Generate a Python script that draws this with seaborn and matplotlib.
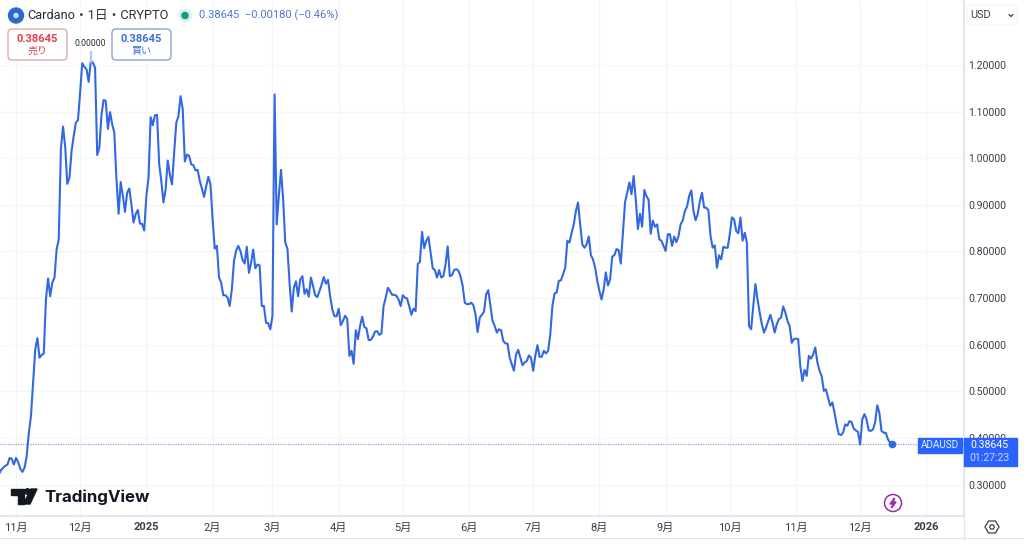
import pandas as pd
import matplotlib
matplotlib.use('Agg')
import matplotlib.pyplot as plt
from matplotlib.patches import Circle, FancyBboxPatch, Polygon, Rectangle
import seaborn as sns

# ADAUSD daily close
oct_24 = [.322, .331, .336, .340, .343, .357, .355, .343]
nov_24 = [.357, .348, .334, .327, .336, .361, .411, .447, .518, .590, .614, .572, .578, .581, .697,
          .742, .704, .733, .744, .804, .826, 1.019, 1.068, 1.026, .945, .958, 1.015, 1.048, 1.076, 1.082]
dec_24 = [1.141, 1.204, 1.196, 1.191, 1.164, 1.209, 1.205, 1.194, 1.007, 1.023, 1.094, 1.125, 1.123, 1.063, 1.099,
          1.073, 1.055, .955, .881, .949, .919, .885, .926, .935, .901, .862, .880, .889, .860, .859, .845]
jan_25 = [.919, .958, 1.088, 1.071, 1.092, 1.093, .987, .951, .905, .933, .995, .965, .944, 1.012, 1.076,
          1.090, 1.133, 1.106, .993, 1.008, 1.005, .987, .985, .974, .975, .951, .935, .917, .940, .960, .944]
feb_25 = [.869, .806, .812, .744, .733, .706, .706, .701, .683, .719, .779, .802, .812, .801,
          .782, .774, .810, .754, .776, .804, .764, .772, .770, .683, .683, .647, .646, .633]
mar_25 = [.661, 1.137, .858, .920, .975, .912, .819, .806, .733, .671, .722, .736, .704, .740, .747,
          .709, .719, .703, .744, .726, .706, .702, .715, .729, .745, .731, .739, .704, .676, .661, .661]
apr_25 = [.677, .642, .651, .662, .655, .576, .587, .559, .631, .612, .640, .660, .638, .635, .610,
          .610, .617, .628, .629, .621, .624, .683, .701, .722, .715, .707, .707, .705, .697, .683]
may_25 = [.706, .701, .699, .683, .664, .677, .672, .773, .778, .842, .807, .823, .831, .798, .764,
          .760, .744, .760, .744, .747, .773, .811, .747, .749, .760, .762, .759, .747, .726, .690, .687]
jun_25 = [.687, .690, .685, .665, .627, .658, .664, .671, .708, .717, .683, .651, .640, .626, .633,
          .631, .608, .603, .602, .572, .558, .544, .579, .589, .572, .556, .562, .565, .577, .572]
jul_25 = [.544, .576, .599, .574, .574, .587, .581, .587, .622, .683, .710, .712, .737, .738, .751,
          .765, .823, .819, .840, .858, .887, .905, .858, .815, .808, .815, .832, .792, .783, .765, .737]
aug_25 = [.715, .697, .719, .755, .727, .740, .789, .792, .805, .803, .774, .840, .906, .926, .948,
          .923, .962, .912, .848, .881, .853, .932, .919, .911, .838, .866, .853, .858, .826, .823, .812]
sep_25 = [.801, .837, .837, .812, .832, .820, .833, .858, .867, .887, .896, .919, .931, .887, .867,
          .880, .908, .926, .894, .894, .888, .833, .808, .813, .765, .792, .783, .810, .808, .808]
oct_25 = [.837, .873, .869, .844, .839, .873, .823, .840, .819, .640, .633, .683, .730, .697, .669,
          .644, .626, .637, .651, .664, .647, .626, .644, .655, .658, .682, .669, .651, .640, .604, .612]
nov_25 = [.613, .612, .554, .522, .546, .533, .576, .570, .579, .594, .562, .544, .533, .501, .504,
          .486, .469, .476, .454, .429, .408, .406, .411, .429, .426, .436, .434, .420, .416, .413]
dec_25 = [.386, .440, .451, .440, .416, .415, .418, .433, .470, .454, .415, .411, .411, .397, .390, .38645]

months = [oct_24, nov_24, dec_24, jan_25, feb_25, mar_25, apr_25, may_25, jun_25,
          jul_25, aug_25, sep_25, oct_25, nov_25, dec_25]
prices = [p for m in months for p in m]
last_price = prices[-1]

tick_dates = pd.date_range('2024-11-01', '2026-01-01', freq='MS')
tick_labels = ['11月', '12月', '2025', '2月', '3月', '4月', '5月', '6月', '7月', '8月', '9月', '10月', '11月', '12月', '2026']
price_ticks = [0.3, 0.4, 0.5, 0.6, 0.7, 0.8, 0.9, 1.0, 1.1, 1.2]

df = pd.DataFrame({'date': pd.date_range('2024-10-24', periods=len(prices), freq='D'), 'price': prices})

BLUE = '#3268e0'
TEXT = '#3a3e4a'
GRID = '#f4f5f7'
LINE = '#e0e3eb'

sns.set_theme(style='white')
plt.rcParams['font.family'] = ['Roboto', 'Noto Sans CJK JP', 'DejaVu Sans']

fig = plt.figure(figsize=(10.24, 5.45), dpi=100)
ax = fig.add_axes([0, 29.5 / 545, 964 / 1024, 515.5 / 545])

sns.lineplot(data=df, x='date', y='price', color=BLUE, linewidth=1.5, ax=ax, zorder=4)
ax.axhline(last_price, color='#8fa8d8', linewidth=0.9, linestyle=(0, (1, 1)), zorder=3)
ax.plot(df['date'].iloc[-1], last_price, 'o', color=BLUE, markersize=4.5, zorder=5)

ax.set_xlim(pd.Timestamp('2024-11-01') - pd.Timedelta(days=7.49), pd.Timestamp('2024-11-01') + pd.Timedelta(days=443.6))
ax.set_ylim(0.2335, 1.3395)
ax.set_xticks(tick_dates)
ax.set_xticklabels(tick_labels)
ax.set_yticks(price_ticks)
ax.set_yticklabels([f'{t:.5f}' for t in price_ticks])
ax.yaxis.tick_right()
ax.tick_params(axis='y', length=0, pad=3, labelsize=7.6, labelcolor=TEXT)
ax.tick_params(axis='x', length=0, pad=5, labelsize=8, labelcolor=TEXT)
for lab in ax.get_xticklabels():
    if lab.get_text() in ('2025', '2026'):
        lab.set_fontweight('bold')
ax.grid(True, color=GRID, linewidth=0.9)
ax.set_axisbelow(True)
ax.set_xlabel('')
ax.set_ylabel('')
for side in ax.spines:
    ax.spines[side].set_visible(False)
ax.spines['right'].set_visible(True)
ax.spines['bottom'].set_visible(True)
ax.spines['right'].set_color(LINE)
ax.spines['bottom'].set_color(LINE)

# overlay in pixel coordinates for the TradingView chrome
ui = fig.add_axes([0, 0, 1, 1], zorder=10)
ui.set_xlim(0, 1024)
ui.set_ylim(545, 0)
ui.axis('off')
ui.patch.set_alpha(0)


def box(x0, y0, x1, y1, edge, face='white', r=4, lw=0.9):
    ui.add_patch(FancyBboxPatch((x0 + r, y0 + r), x1 - x0 - 2 * r, y1 - y0 - 2 * r,
                                boxstyle=f'round,pad={r},rounding_size={r}',
                                edgecolor=edge, facecolor=face, linewidth=lw))


# header
ui.add_patch(Circle((16, 15.5), 7.5, color='#2a6dd0'))
ui.add_patch(Circle((16, 15.5), 2, color='#cfe0fa'))
ui.text(27, 15.5, 'Cardano・1日・CRYPTO', fontsize=9.2, color='#2a2e39', va='center')
ui.add_patch(Circle((185, 15.5), 6, color='#d8f0ec'))
ui.add_patch(Circle((185, 15.5), 3, color='#159a80'))
ui.text(199, 15.5, '0.38645  −0.00180 (−0.46%)', fontsize=8, color='#4f78cf', va='center')

# sell / buy buttons
box(8, 29, 67, 60, '#e3a0a8')
ui.text(37.5, 38.5, '0.38645', fontsize=8, fontweight='bold', color='#e0404f', ha='center', va='center')
ui.text(37.5, 50.5, '売り', fontsize=7.2, color='#e0404f', ha='center', va='center')
ui.text(90, 44, '0.00000', fontsize=6.2, color='#2a2e39', ha='center', va='center')
ui.plot([91, 91], [52, 62], color='#b4c6f2', linewidth=1.6)
box(112, 29, 171, 60, '#7f9ad8')
ui.text(141.5, 38.5, '0.38645', fontsize=8, fontweight='bold', color='#3f6fd0', ha='center', va='center')
ui.text(141.5, 50.5, '買い', fontsize=7.2, color='#3f6fd0', ha='center', va='center')

# currency selector
box(967, 5, 1017, 25, '#f0f1f4', r=3, lw=0.7)
ui.text(970, 15.5, 'USD', fontsize=7.8, color=TEXT, va='center')
ui.plot([1009, 1011, 1013], [14.5, 16.5, 14.5], color=TEXT, linewidth=0.9)

# last price labels
ui.add_patch(Rectangle((918, 438), 44, 14.5, color='#2962ff'))
ui.text(940, 445, 'ADAUSD', fontsize=7.2, color='#e8eeff', ha='center', va='center')
ui.add_patch(Rectangle((964, 438), 52.5, 28, color='#2962ff'))
ui.text(989, 445, '0.38645', fontsize=7.6, color='white', ha='center', va='center')
ui.text(989, 458, '01:27:23', fontsize=7.6, color='#c8d6ff', ha='center', va='center')

# logo
ui.add_patch(Polygon([(11, 489), (24, 489), (24, 504), (18, 504), (18, 494.5), (11, 494.5)], color='#131722'))
ui.add_patch(Circle((27.5, 491.5), 2.7, color='#131722'))
ui.add_patch(Polygon([(31, 489), (37, 489), (30, 504), (23.5, 504)], color='#131722'))
ui.text(44, 497, 'TradingView', fontsize=12.2, fontweight='bold', family='Inter', color='#131722', va='center')

# bolt badge and settings
ui.add_patch(Circle((893, 503), 8.5, edgecolor='#9c27b0', facecolor='white', linewidth=1.1))
ui.add_patch(Polygon([(894.5, 498), (890, 504), (893, 504), (891.5, 508), (896, 502), (893, 502)], color='#9c27b0'))
ui.add_patch(Polygon([(985, 527), (988.5, 521), (995.5, 521), (999, 527), (995.5, 533), (988.5, 533)],
                     edgecolor=TEXT, facecolor='none', linewidth=0.9))
ui.add_patch(Circle((992, 527), 2.2, edgecolor=TEXT, facecolor='none', linewidth=0.9))
ui.plot([0, 1024], [538, 538], color=LINE, linewidth=0.8)
ui.plot([964, 964], [515, 540], color=LINE, linewidth=0.8)

fig.savefig('out.png', dpi=100)
